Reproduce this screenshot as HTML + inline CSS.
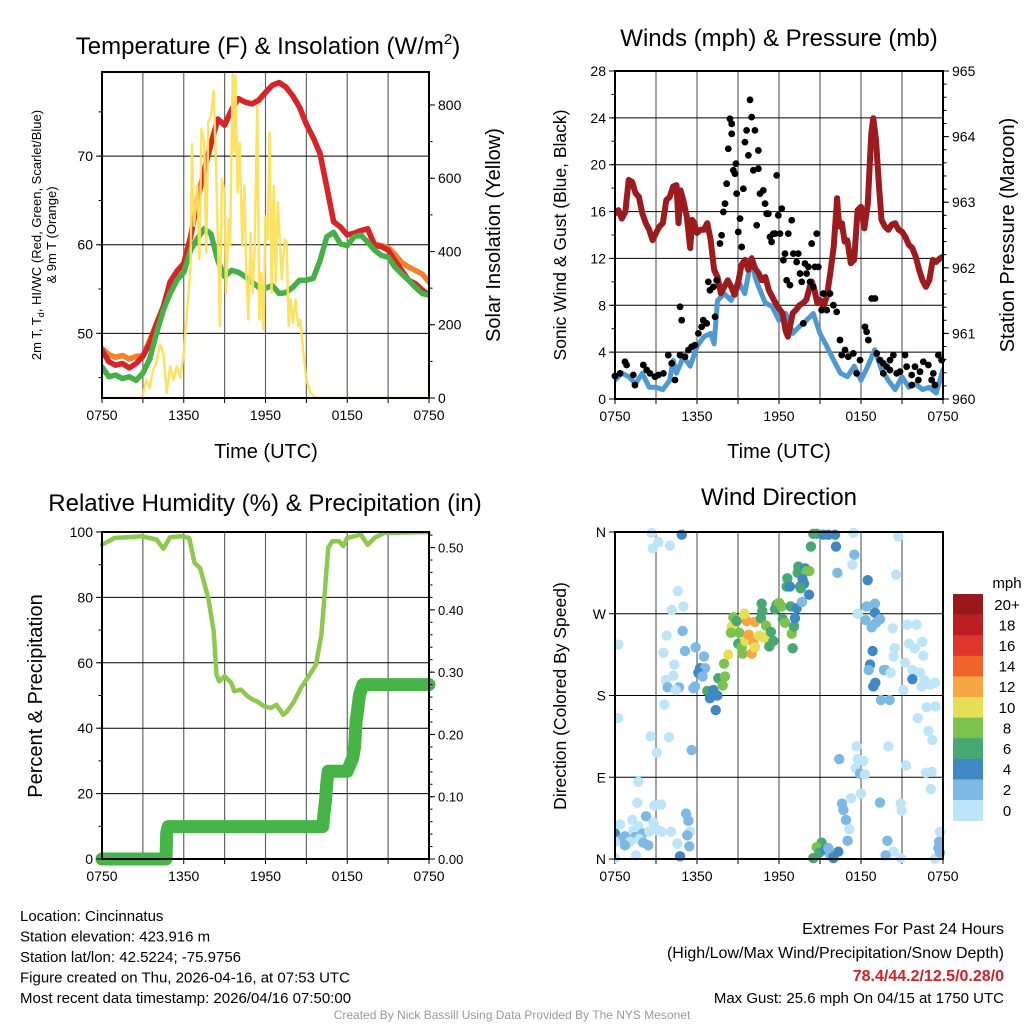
<!DOCTYPE html>
<html><head><meta charset="utf-8"><style>
html,body{margin:0;padding:0;background:#fff;}
svg{display:block;font-family:"Liberation Sans",Arial,sans-serif;}
</style></head><body>
<svg id="c" width="1024" height="1024" viewBox="0 0 1024 1024" xmlns="http://www.w3.org/2000/svg"></svg>
<script>
// ---------- DATA ----------
const timeTickHours = [0, 6, 12, 18, 24];
const timeTickLabels = ["0750", "1350", "1950", "0150", "0750"];
// Panel 1 (half-hour steps)
const tempRed = [48.1,46.8,46.4,46.6,46.1,46.6,47.4,48.9,51.1,53,55.8,57,57.9,60.9,65,68.4,71.4,74.2,73.5,75.2,76.5,76.1,75.9,76.3,77.2,78,78.3,77.8,76.8,75.5,73.6,72.1,70.3,66.5,62.6,62,61.1,61.3,61.6,61.8,59.9,59.8,59.4,58.2,57.1,56,55.6,54.9,54.3];
const tempOrange = [48.3,47.6,47.3,47.5,47.1,47.4,47.5,49.2,51.1,53,55.8,57,57.9,60.9,65,68.4,71.4,74.2,73.5,75.2,76.5,76.1,75.9,76.3,77.2,78,78.3,77.8,76.8,75.5,73.6,72.1,70.3,66.5,62.6,62,61.1,61.3,61.6,61.8,60.1,59.9,59.7,58.9,58,57.5,57.1,56.7,55.8];
const dewGreen = [46.2,45.1,45.3,44.9,45.1,44.7,45.5,47.1,50,52.6,54.5,56,56.9,59.4,60.7,61.8,61.2,58.2,56.4,57.1,56.9,56.4,55.8,55.2,55.1,55.4,54.5,54.6,55.2,56,56,56.2,58.2,60.9,61.4,60.1,59.9,60.9,61.1,60.3,59.4,58.8,58.6,57.5,56.7,56,55.2,54.5,54.3];
const solarHours = [0,2.9,3,3.25,3.5,3.75,4,4.25,4.5,4.75,5,5.25,5.5,5.75,6,6.25,6.5,6.6,6.75,7,7.15,7.3,7.5,7.65,7.8,8,8.2,8.35,8.5,8.65,8.8,9,9.1,9.3,9.4,9.5,9.6,9.7,9.8,9.95,10.1,10.3,10.45,10.6,10.75,10.9,11.05,11.2,11.4,11.55,11.7,11.85,12,12.15,12.3,12.45,12.6,12.75,12.9,13.05,13.2,13.4,13.55,13.7,13.85,14,14.2,14.4,14.55,14.75,15,15.3,15.6,16,24];
const solarValues = [0,0,9,50,27,78,96,146,123,14,87,50,87,55,123,242,360,693,470,579,379,735,698,397,753,771,839,652,443,196,598,561,287,488,415,652,890,671,880,561,698,415,579,333,214,451,287,406,798,214,342,187,497,433,725,287,579,315,534,433,324,433,424,196,269,205,269,196,214,132,50,14,3,0,0];
const tempTicks = [50, 60, 70];
const solarTicks = [0, 200, 400, 600, 800];
// Panel 2
const windHours = [0,0.5,1,1.5,2,2.5,3,3.5,4,4.25,4.5,5,5.5,6,6.5,7,7.25,7.5,8,8.5,9,9.5,10,10.25,10.5,11,11.5,12,12.5,13,13.5,14,14.5,15,15.5,16,16.5,17,17.5,18,18.5,19,19.5,20,20.5,21,21.5,22,22.5,23,23.5,24];
const windSpeed = [1.6,2.2,1.9,1.3,2.2,1.0,1.0,0.8,1.6,3.3,2.2,3.6,2.8,4.5,5.3,5.6,4.7,8.4,9.0,8.4,10.1,9.0,12.1,10.4,9.6,8.2,7.9,6.7,7.3,5.6,6.2,6.7,7.3,5.6,4.5,3.3,2.2,1.9,2.8,1.6,2.8,4.2,2.5,1.6,0.8,1.9,1.0,1.3,0.8,1.0,0.5,2.5];
const pressHours = [0,0.25,0.5,0.75,1,1.25,1.5,1.75,2,2.25,2.5,2.75,3,3.25,3.5,3.75,4,4.25,4.5,4.65,4.8,5,5.25,5.5,5.65,5.8,6,6.25,6.5,6.75,7,7.25,7.5,7.75,8,8.25,8.5,8.75,9,9.25,9.5,9.75,10,10.25,10.5,10.75,11,11.25,11.5,11.75,12,12.25,12.5,12.65,12.85,13,13.25,13.5,13.75,14,14.25,14.4,14.6,14.8,15,15.25,15.5,15.75,16,16.25,16.4,16.6,16.8,17,17.25,17.5,17.75,18,18.25,18.5,18.75,18.9,19.1,19.3,19.5,19.75,20,20.25,20.5,20.75,21,21.25,21.5,21.75,22,22.25,22.5,22.75,23,23.25,23.5,23.75,24];
const pressValues = [962.83,962.88,962.75,962.85,963.34,963.31,963.14,963.08,962.83,962.68,962.58,962.42,962.53,962.63,962.68,963.03,963.08,963.24,963.26,962.68,963.18,963.03,962.78,962.30,962.73,962.68,962.53,962.58,962.58,962.68,962.42,961.97,961.86,961.61,961.71,961.81,961.71,961.59,961.76,962.04,962.12,961.97,962.14,961.99,961.92,961.81,961.86,961.66,961.56,961.46,961.38,961.31,961.03,960.95,961.15,961.31,961.36,961.43,961.46,961.51,961.71,961.79,961.66,961.46,961.51,961.41,961.56,961.92,962.32,963.06,962.63,962.68,962.40,962.42,962.07,962.12,962.88,962.93,962.60,962.98,964.05,964.28,963.95,963.29,962.73,962.63,962.58,962.66,962.68,962.58,962.55,962.47,962.35,962.30,962.17,961.97,961.81,961.71,961.81,962.12,962.09,962.14,962.17];
const gustHours = [0,0.37,0.73,0.85,1.34,1.46,2.07,2.32,2.56,2.93,3.17,3.54,3.9,4.15,4.39,4.76,4.88,4.76,5.12,5.37,5.61,5.85,6.1,6.34,6.46,6.71,6.83,6.95,7.2,7.32,7.44,7.68,7.8,7.93,8.05,8.17,8.29,8.41,8.54,8.54,8.66,8.78,8.85,8.9,9.02,9.15,9.27,9.39,9.51,9.63,9.76,9.88,10,10.12,10.24,10.37,10.49,10.49,10.61,10.85,10.98,11.1,11.22,11.34,11.46,11.59,11.71,11.83,11.95,12.07,12.2,12.32,12.44,12.56,12.68,12.8,12.93,13.05,13.29,13.41,13.54,13.66,13.78,13.9,14.02,14.15,14.27,14.39,14.51,14.63,14.76,14.88,15.12,15.24,15.49,15.73,15.98,16.22,16.46,16.59,16.83,17.07,17.44,17.68,17.93,18.29,18.41,18.54,18.78,19.02,19.15,19.39,19.63,19.88,20.12,20.37,20.61,20.85,21.22,21.34,21.71,21.95,22.32,22.56,22.93,23.17,23.41,23.66,23.9,21.71,22.2,20.12,19.63,23.29];
const gustMph = [1.96,2.19,3.18,2.9,2.05,1.19,2.9,2.47,2.19,1.9,2.05,2.19,3.75,3.04,1.62,7.87,6.73,3.75,3.61,4.18,4.46,4.6,5.6,6.16,6.73,6.45,10,9.29,9.57,7.02,10.14,13.27,13.98,15.97,16.68,18.38,21.36,23.92,23.49,22.64,19.52,19.23,20.09,17.53,14.26,15.4,12.98,17.95,21.93,22.93,20.8,25.54,24.06,19.52,22.93,14.83,21.22,19.66,17.53,17.81,16.68,15.82,15.82,13.84,13.41,14.12,14.12,19.09,15.68,14.12,16.25,11.85,12.41,10.14,14.12,9.72,15.26,12.41,11.7,12.41,10.71,10,6.45,11.56,10.71,11.28,10,13.27,9.57,11.28,14.12,11.28,7.59,9.0,7.59,9.0,8.01,7.44,5.03,3.75,4.18,3.61,3.89,2.19,3.32,6.16,5.74,5.03,8.58,8.58,3.89,3.32,3.04,2.76,3.32,3.75,2.19,2.33,3.75,2.76,2.05,2.76,2.33,3.18,2.9,1.62,1.19,3.75,3.32,1.19,1.62,2.47,2.19,2.19];
const windTicks = [0,4,8,12,16,20,24,28];
const pressTicks = [960,961,962,963,964,965];
// Panel 3
const rhHours = [0,0.93,1.9,2.9,4,4.5,5,5.8,6.4,6.8,7.2,7.8,8.2,8.4,8.6,9,9.5,9.7,10.2,10.7,11.1,11.4,11.9,12.4,12.8,13.3,13.6,14.1,14.6,15.1,15.7,16.1,16.3,16.6,16.9,17.4,17.7,18,19,19.5,20,20.7,24];
const rhValues = [96.1,98.2,98.4,98.7,97.7,94.9,98.4,98.7,98.2,90.5,89,79.8,69.6,56.4,54.3,55.9,53.8,51.3,51.8,49.7,48.7,48.2,46.7,46.2,47.2,44.1,45.2,48.2,52.3,55.4,59.4,68.6,78.8,95.2,97.2,97.2,95.7,98.2,99.2,96.1,98.2,99.7,100];
const precipHours = [0,4.7,4.75,4.85,16.2,16.3,16.4,16.5,16.6,18.0,18.4,18.55,18.65,18.8,18.9,19.15,24];
const precipValues = [0,0,0.042,0.052,0.052,0.074,0.092,0.122,0.141,0.141,0.162,0.181,0.221,0.245,0.264,0.28,0.28];
const rhTicks = [0,20,40,60,80,100];
const precipTicks = [0,0.1,0.2,0.3,0.4,0.5];
const precipTickLabels = ["0.00","0.10","0.20","0.30","0.40","0.50"];
// Panel 4
const dirHours = [2.68,4.88,3.17,2.76,4.02,4.59,5.0,4.15,4.95,3.78,0.24,3.54,5.12,5.9,4.34,6.51,6.22,6.59,6.1,6.41,4.27,3.71,3.85,4.68,4.44,5.73,5.85,6.76,7.2,6.95,7.49,7.37,7.56,7.88,8.05,7.98,8.29,8.54,8.66,8.49,8.9,9.1,9.02,9.27,9.34,9.54,9.63,9.46,9.78,10.0,10.12,10.24,10.24,10.54,10.85,11.1,10.68,10.78,11.05,10.73,11.41,11.59,11.29,11.71,11.83,12.0,12.2,12.27,12.44,12.85,12.93,13.0,13.1,13.17,13.29,13.68,13.54,12.61,12.56,12.8,13.37,13.41,13.9,14.02,14.22,13.73,13.83,13.59,14.2,14.34,14.51,14.76,15.24,15.61,16.1,16.17,16.27,17.44,17.51,17.37,18.49,18.41,19.02,19.02,18.34,18.78,19.1,19.39,17.76,18.85,18.66,18.56,19.68,19.78,20.17,18.9,19.05,19.46,20.1,20.73,20.56,20.32,21.39,22.07,22.49,21.51,21.93,20.46,20.39,22.56,21.22,21.76,22.32,21.76,22.63,22.44,23.05,23.41,21.1,22.8,23.46,22.15,22.93,23.22,20.0,17.68,16.41,17.76,18.17,17.61,17.93,18.29,21.29,22.76,23.17,23.1,18.0,19.39,20.9,20.98,17.27,16.61,16.71,16.9,17.15,17.02,19.93,20.37,19.8,20.9,23.41,23.78,23.71,23.66,23.78,15.12,14.76,14.95,15.37,15.73,15.98,15.61,14.51,16.34,15.98,0.24,2.61,3.95,3.05,5.61,3.61,1.71,1.63,3.37,2.88,2.27,1.27,0.37,0,0.73,0.49,1.34,1.71,2.02,2.51,2.8,3.1,3.41,4.1,1.46,1.1,0.73,0,1.78,2.07,2.44,5.2,5.37,5.49,5.29,4.56,5.44,4.76,1.54,0];
const dirDegrees = [359,357,349,342,345,295,278,274,251,246,236,227,229,233,214,223,210,210,205,201,202,197,189,189,186,188,190,185,186,177,180,164,199,191,201,215,225,256,266,249,262,249,237,233,226,240,262,270,247,226,239,261,233,246,244,243,265,273,257,281,250,240,234,275,280,282,278,264,260,278,248,232,256,265,276,283,300,309,300,300,315,322,320,317,317,308,303,298,291,344,358,358,357,357,357,344,315,359,335,324,307,278,281,271,263,255,260,264,270,229,214,208,208,208,205,190,194,175,175,355,313,254,258,258,239,237,232,232,223,224,216,208,205,198,197,190,192,194,186,167,168,155,141,131,124,124,110,110,108,100,94,93,103,95,96,77,72,62,61,53,67,61,54,43,33,20,20,8,4,1,0,30,19,12,7,18,13,7,10,5,3,12,1,8,1,155,135,134,117,120,170,85,62,60,59,47,43,38,28,25,22,31,36,28,30,40,32,30,30,24,19,15,19,22,18,15,50,42,30,26,17,14,3,4,1];
const dirSpeed = [1,5,1,1,1,1,1,1,3,1,1,1,3,3,1,3,5,3,5,3,1,1,3,3,1,3,3,7,5,5,5,5,7,9,9,9,11,11,9,9,7,9,7,9,9,11,13,11,13,13,13,13,11,11,11,11,7,7,9,7,7,7,7,7,7,9,9,7,9,7,9,7,7,5,5,3,7,7,7,5,7,7,5,9,9,5,5,7,5,7,7,7,5,5,5,5,3,1,3,1,5,3,3,5,3,3,3,3,1,5,5,3,3,3,1,5,5,3,3,1,1,1,1,1,1,1,1,1,1,1,1,1,1,5,1,1,1,1,1,1,1,1,1,1,1,1,3,1,1,1,3,1,1,1,1,1,1,3,1,1,1,3,3,3,1,3,3,1,3,1,1,1,3,3,3,7,9,7,5,3,7,3,7,5,5,1,1,1,1,3,1,1,1,1,1,3,1,1,5,3,3,1,1,3,1,1,1,1,1,3,1,3,1,1,3,3,3,3,1,3,1,3,5,1,1];
const dirTicks = [0, 90, 180, 270, 360];
const dirTickLabels = ["N", "E", "S", "W", "N"];
const speedBins = [0,2,4,6,8,10,12,14,16,18,20];
const speedBinLabels = ["0","2","4","6","8","10","12","14","16","18","20+"];
const speedColors = ["#bde4f7","#7db9e3","#3f88c4","#47a872","#7bc24f","#e6df55","#f7a643","#f0632a","#e0352a","#bd1e24","#99181c"];

// ---------- HELPERS ----------
const NS = "http://www.w3.org/2000/svg";
const svg = document.getElementById("c");
function mk(tag, attrs, parent) {
  const e = document.createElementNS(NS, tag);
  for (const k in attrs) e.setAttribute(k, attrs[k]);
  (parent || svg).appendChild(e);
  return e;
}
function txt(s, x, y, size, anchor, parent, extra) {
  const t = mk("text", Object.assign({x: x, y: y, "font-size": size, "text-anchor": anchor || "middle", fill: "#000"}, extra || {}), parent);
  t.textContent = s;
  return t;
}
function lin(d0, d1, r0, r1) { return v => r0 + (v - d0) / (d1 - d0) * (r1 - r0); }
function pathOf(xs, ys, fx, fy) {
  let d = "";
  for (let i = 0; i < xs.length; i++) d += (i ? "L" : "M") + fx(xs[i]).toFixed(1) + "," + fy(ys[i]).toFixed(1);
  return d;
}
function halfHours(n) { const a = []; for (let i = 0; i < n; i++) a.push(i * 0.5); return a; }

const defs = mk("defs", {});
function clip(id, x0, y0, x1, y1) {
  const cp = mk("clipPath", {id: id}, defs);
  mk("rect", {x: x0, y: y0, width: x1 - x0, height: y1 - y0}, cp);
}

function frame(g, P) {
  for (let h = 3; h < 24; h += 3) {
    const l = mk("line", {x1: P.fx(h), x2: P.fx(h), y1: P.y0, y2: P.y1, stroke: "#666", "stroke-width": 1.2}, g);
    
    
  }
  for (let h = 0; h <= 24; h += 3) {
    mk("line", {x1: P.fx(h), x2: P.fx(h), y1: P.y1, y2: P.y1 + 5, stroke: "#000", "stroke-width": 1}, g);
  }
  timeTickHours.forEach((h, i) => {
    const t = txt(timeTickLabels[i], P.fx(h), P.y1 + 22, 14, "middle", g);
    
    
  });
}
function border(g, P) {
  const r = mk("rect", {x: P.x0, y: P.y0, width: P.x1 - P.x0, height: P.y1 - P.y0, fill: "none", stroke: "#000", "stroke-width": 2}, g);
  
  
}
function hgrid(g, P, ticks, fy) {
  ticks.forEach(v => {
    const y = fy(v);
    if (y > P.y0 + 1 && y < P.y1 - 1) {
      const l = mk("line", {x1: P.x0, x2: P.x1, y1: y, y2: y, stroke: "#000", "stroke-width": 1}, g);
      
      
    }
  });
}
function yTicks(g, x, side, ticks, labels, fy, minorStep, dmin, dmax, size) {
  const dir = side === "left" ? -1 : 1;
  ticks.forEach((v, i) => {
    const y = fy(v);
    mk("line", {x1: x, x2: x + dir * 6, y1: y, y2: y, stroke: "#000", "stroke-width": 1}, g);
    const t = txt(labels[i], x + dir * 9, y + 5, size || 14, side === "left" ? "end" : "start", g);
    
    
  });
  if (minorStep) {
    for (let v = dmin; v <= dmax + 1e-9; v += minorStep) {
      const y = fy(v);
      mk("line", {x1: x, x2: x + dir * 3.5, y1: y, y2: y, stroke: "#000", "stroke-width": 1}, g);
    }
  }
}
function vlabel(s, x, y, size, g, name) {
  const t = txt(s, x, y, size, "middle", g, {transform: "rotate(-90 " + x + " " + y + ")"});
  
  
  return t;
}

// ---------- PANEL 1 ----------
(function () {
  const P = {x0: 102, x1: 429, y0: 72, y1: 398};
  P.fx = lin(0, 24, P.x0, P.x1);
  const fT = lin(42.7, 79.5, P.y1, P.y0);
  const fS = lin(0, 890, P.y1, P.y0);
  const g = mk("g", {});
  
  
  clip("c1", P.x0, P.y0, P.x1, P.y1);
  frame(g, P);
  hgrid(g, P, tempTicks, fT);
  const hrs = halfHours(tempRed.length);
  const lines = mk("g", {"clip-path": "url(#c1)", fill: "none", "stroke-linejoin": "round", "stroke-linecap": "round"}, g);
  const o = mk("path", {d: pathOf(hrs, tempOrange, P.fx, fT), stroke: "#f4802b", "stroke-width": 5.5}, lines);
  
  
  const r = mk("path", {d: pathOf(hrs, tempRed, P.fx, fT), stroke: "#d7242a", "stroke-width": 5.5}, lines);
  
  
  const gr = mk("path", {d: pathOf(hrs, dewGreen, P.fx, fT), stroke: "#45b045", "stroke-width": 5.5}, lines);
  
  
  const y = mk("path", {d: pathOf(solarHours, solarValues, P.fx, fS), stroke: "#fbe05c", "stroke-width": 2.5, "stroke-opacity": 0.95}, lines);
  
  
  border(g, P);
  yTicks(g, P.x0, "left", tempTicks, tempTicks.map(String), fT, 5, 45, 75);
  yTicks(g, P.x1, "right", solarTicks, solarTicks.map(String), fS, 100, 0, 800);
  const title = mk("text", {x: 268, y: 54, "font-size": 24, "text-anchor": "middle"}, g);
  title.innerHTML = 'Temperature (F) &amp; Insolation (W/m<tspan dy="-10" font-size="15">2</tspan><tspan dy="10">)</tspan>';
  
  
  const xl = txt("Time (UTC)", 266, 458, 20, "middle", g);
  
  
  const yl = mk("text", {x: 0, y: 0, "font-size": 13, "text-anchor": "middle", transform: "translate(41 235) rotate(-90)"}, g);
  yl.innerHTML = '2m T, T<tspan dy="3" font-size="9">d</tspan><tspan dy="-3">, HI/WC (Red, Green, Scarlet/Blue)</tspan>';
  
  
  vlabel("& 9m T (Orange)", 56, 235, 13, g, 'temperature-y-axis-title-line2');
  vlabel("Solar Insolation (Yellow)", 500, 235, 20, g, 'solar-y-axis-title');
})();

// ---------- PANEL 2 ----------
(function () {
  const P = {x0: 615, x1: 943, y0: 71, y1: 399};
  P.fx = lin(0, 24, P.x0, P.x1);
  const fW = lin(0, 28, P.y1, P.y0);
  const fP = lin(960, 965, P.y1, P.y0);
  const g = mk("g", {});
  
  
  clip("c2", P.x0, P.y0, P.x1, P.y1);
  frame(g, P);
  hgrid(g, P, windTicks, fW);
  const lines = mk("g", {"clip-path": "url(#c2)", fill: "none", "stroke-linejoin": "round", "stroke-linecap": "round"}, g);
  const b = mk("path", {d: pathOf(windHours, windSpeed, P.fx, fW), stroke: "#4f99d3", "stroke-width": 5}, lines);
  
  
  const m = mk("path", {d: pathOf(pressHours, pressValues, P.fx, fP), stroke: "#9b1b1e", "stroke-width": 6}, lines);
  
  
  const dots = mk("g", {}, g);
  gustHours.forEach((h, i) => {
    const c = mk("circle", {cx: P.fx(h), cy: fW(gustMph[i]), r: 3.4, fill: "#000"}, dots);
    
    
  });
  border(g, P);
  yTicks(g, P.x0, "left", windTicks, windTicks.map(String), fW, 2, 0, 28);
  yTicks(g, P.x1, "right", pressTicks, pressTicks.map(String), fP, 0.2, 960, 965);
  const t = txt("Winds (mph) & Pressure (mb)", 779, 46, 24, "middle", g);
  
  
  const xl = txt("Time (UTC)", 779, 458, 20, "middle", g);
  
  
  vlabel("Sonic Wind & Gust (Blue, Black)", 566, 235, 17.5, g, 'wind-y-axis-title');
  vlabel("Station Pressure (Maroon)", 1014, 235, 20, g, 'pressure-y-axis-title');
})();

// ---------- PANEL 3 ----------
(function () {
  const P = {x0: 102, x1: 429, y0: 532, y1: 859};
  P.fx = lin(0, 24, P.x0, P.x1);
  const fR = lin(0, 100, P.y1, P.y0);
  const fQ = lin(0, 0.525, P.y1, P.y0);
  const g = mk("g", {});
  
  
  clip("c3", P.x0 - 8, P.y0, P.x1 + 8, P.y1 + 8);
  frame(g, P);
  hgrid(g, P, rhTicks, fR);
  const lines = mk("g", {"clip-path": "url(#c3)", fill: "none", "stroke-linejoin": "round", "stroke-linecap": "round"}, g);
  const rh = mk("path", {d: pathOf(rhHours, rhValues, P.fx, fR), stroke: "#8dc84f", "stroke-width": 4.5}, lines);
  
  
  const pr = mk("path", {d: pathOf(precipHours, precipValues, P.fx, fQ), stroke: "#46b446", "stroke-width": 13}, lines);
  
  
  border(g, P);
  yTicks(g, P.x0, "left", rhTicks, rhTicks.map(String), fR, 10, 0, 100);
  yTicks(g, P.x1, "right", precipTicks, precipTickLabels, fQ, 0.02, 0, 0.52, 13);
  const t = txt("Relative Humidity (%) & Precipitation (in)", 265, 511, 24, "middle", g);
  
  
  vlabel("Percent & Precipitation", 42, 696, 20, g, 'humidity-y-axis-title');
})();

// ---------- PANEL 4 ----------
(function () {
  const P = {x0: 615, x1: 943, y0: 532, y1: 859};
  P.fx = lin(0, 24, P.x0, P.x1);
  const fD = lin(0, 360, P.y1, P.y0);
  const g = mk("g", {});
  
  
  clip("c4", P.x0, P.y0 - 6, P.x1 + 6, P.y1 + 6);
  frame(g, P);
  hgrid(g, P, dirTicks, fD);
  const dots = mk("g", {"clip-path": "url(#c4)"}, g);
  dirHours.forEach((h, i) => {
    let bin = 0;
    for (let k = 0; k < speedBins.length; k++) if (dirSpeed[i] >= speedBins[k]) bin = k;
    const c = mk("circle", {cx: P.fx(h), cy: fD(dirDegrees[i]), r: 5.2, fill: speedColors[bin]}, dots);
    
    
  });
  border(g, P);
  yTicks(g, P.x0, "left", dirTicks, dirTickLabels, fD, 0, 0, 0);
  const t = txt("Wind Direction", 779, 505, 24, "middle", g);
  
  
  vlabel("Direction (Colored By Speed)", 566, 696, 17.5, g, 'direction-y-axis-title');
  const cb = mk("g", {}, g);
  
  
  const top = 594, bh = 20.6;
  const u = txt("mph", 1007, 588, 15, "middle", cb);
  
  
  for (let k = speedColors.length - 1; k >= 0; k--) {
    const row = speedColors.length - 1 - k;
    const r = mk("rect", {x: 953, y: top + row * bh, width: 30, height: bh + 0.3, fill: speedColors[k]}, cb);
    
    
    const l = txt(speedBinLabels[k], 1007, top + row * bh + bh / 2 + 5.5, 15, "middle", cb);
    
    
  }
})();

// ---------- FOOTER TEXT ----------
(function () {
  const g = mk("g", {});
  
  
  const left = ["Location: Cincinnatus", "Station elevation: 423.916 m", "Station lat/lon: 42.5224; -75.9756", "Figure created on Thu, 2026-04-16, at 07:53 UTC", "Most recent data timestamp: 2026/04/16 07:50:00"];
  left.forEach((s, i) => {
    const t = txt(s, 20, 921 + i * 20.5, 15, "start", g);
    
    
  });
  const r1 = txt("Extremes For Past 24 Hours", 1004, 934, 16, "end", g);
  
  
  const r2 = txt("(High/Low/Max Wind/Precipitation/Snow Depth)", 1004, 958, 16, "end", g);
  
  
  const r3 = txt("78.4/44.2/12.5/0.28/0", 1004, 981, 16, "end", g, {fill: "#d42026", "font-weight": "bold"});
  
  
  const r4 = txt("Max Gust: 25.6 mph On 04/15 at 1750 UTC", 1004, 1003, 15, "end", g);
  
  
  const cr = txt("Created By Nick Bassill Using Data Provided By The NYS Mesonet", 512, 1019, 12, "middle", g, {fill: "#999"});
  
  
})();
</script>
</body></html>
